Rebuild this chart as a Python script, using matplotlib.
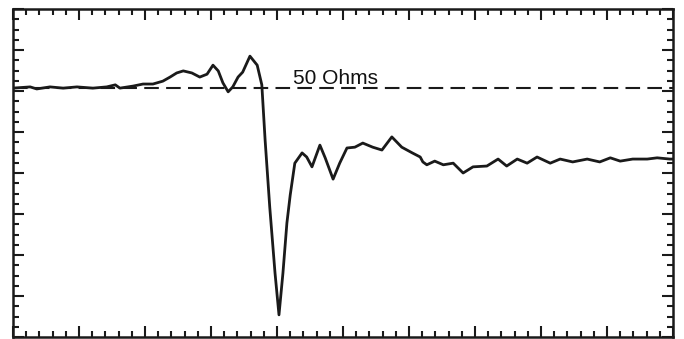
import matplotlib
matplotlib.use("Agg")
import matplotlib.pyplot as plt
from matplotlib.ticker import MultipleLocator

# trace (time in divisions, level in divisions)
t = [0.00, 0.26, 0.36, 0.56, 0.76, 0.97, 1.21, 1.42, 1.55, 1.62, 1.82, 1.97,
     2.12, 2.27, 2.38, 2.48, 2.58, 2.71, 2.83, 2.94, 3.03, 3.11, 3.18, 3.26,
     3.33, 3.41, 3.48, 3.59, 3.70, 3.77, 3.82, 3.89, 3.97, 4.03, 4.09, 4.15,
     4.20, 4.27, 4.38, 4.45, 4.53, 4.65, 4.73, 4.85, 4.95, 5.06, 5.18, 5.30,
     5.45, 5.59, 5.74, 5.89, 6.05, 6.17, 6.21, 6.27, 6.39, 6.52, 6.67, 6.82,
     6.97, 7.18, 7.35, 7.48, 7.64, 7.79, 7.94, 8.14, 8.29, 8.48, 8.70, 8.89,
     9.05, 9.20, 9.39, 9.61, 9.76, 9.95, 10.0]
level = [6.07, 6.10, 6.05, 6.10, 6.07, 6.10, 6.07, 6.10, 6.15, 6.07, 6.12, 6.17,
         6.17, 6.24, 6.34, 6.44, 6.49, 6.44, 6.34, 6.41, 6.63, 6.49, 6.20, 5.98,
         6.10, 6.34, 6.46, 6.85, 6.63, 6.15, 4.80, 3.17, 1.56, 0.54, 1.56, 2.78,
         3.46, 4.24, 4.49, 4.39, 4.15, 4.68, 4.37, 3.85, 4.24, 4.61, 4.63, 4.73,
         4.63, 4.56, 4.88, 4.63, 4.49, 4.39, 4.27, 4.20, 4.29, 4.20, 4.24, 4.00,
         4.15, 4.17, 4.34, 4.17, 4.34, 4.24, 4.39, 4.24, 4.34, 4.27, 4.34, 4.27,
         4.37, 4.29, 4.34, 4.34, 4.37, 4.34, 4.34]

ref_level = 6.08
ref_label = "50 Ohms"

fig = plt.figure(figsize=(6.84, 3.39), dpi=100)
ax = fig.add_axes([13 / 684, 2 / 339, 660 / 684, 328 / 339])

ax.axhline(ref_level, color="#1a1a1a", lw=1.5, dashes=(7, 3.5))
ax.plot(t, level, color="#1a1a1a", lw=2.0, solid_joinstyle="round",
        solid_capstyle="round")
ax.text(4.24, 6.17, ref_label, ha="left", va="baseline", fontsize=15,
        family=["Liberation Sans", "DejaVu Sans"], color="#111111")

ax.set_xlim(0, 10)
ax.set_ylim(0, 8)
ax.xaxis.set_major_locator(MultipleLocator(1))
ax.xaxis.set_minor_locator(MultipleLocator(0.2))
ax.yaxis.set_major_locator(MultipleLocator(1))
ax.yaxis.set_minor_locator(MultipleLocator(0.25))
ax.tick_params(which="both", direction="in", top=True, right=True,
               labelbottom=False, labelleft=False, color="#1a1a1a")
ax.tick_params(which="major", length=8, width=1.5)
ax.tick_params(which="minor", length=4, width=1.5)
for s in ax.spines.values():
    s.set_linewidth(1.8)
    s.set_color("#1a1a1a")

fig.savefig("out.png", dpi=100)
